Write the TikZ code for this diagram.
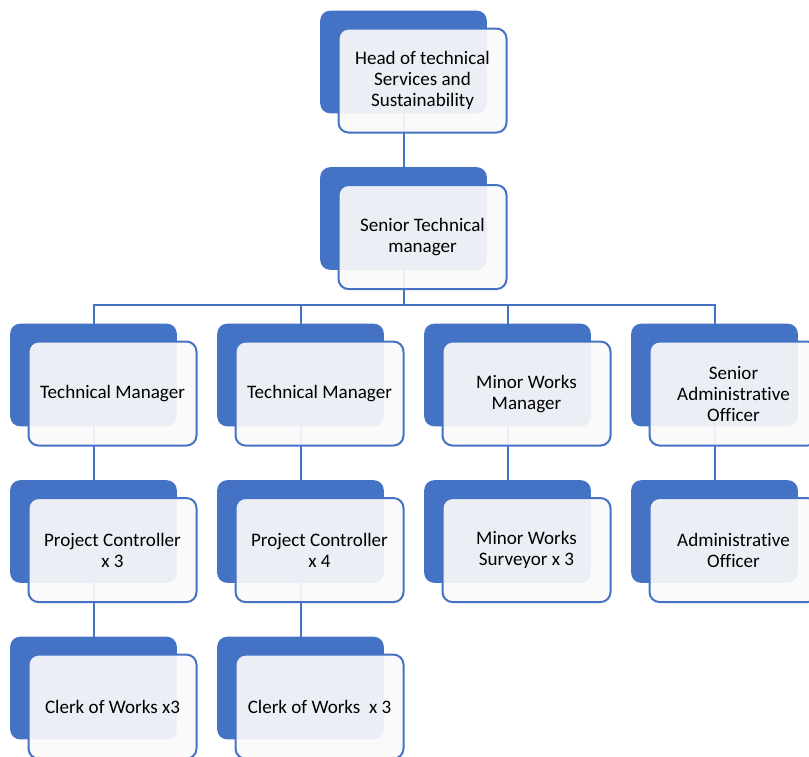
\documentclass[tikz,border=0pt]{standalone}
\usepackage{fontspec}
\setmainfont{Carlito}[Ligatures=NoCommon]
\definecolor{orgblue}{HTML}{4472C4}
\newcommand{\adm}{Administrat\kern0pt ive}

\begin{document}
\begin{tikzpicture}[x=0.75pt,y=-0.75pt,node distance=117.4pt,semithick]
  \tikzstyle{back}=[rectangle,rounded corners=7.5pt,fill=orgblue,minimum width=125pt,minimum height=77pt]
  \tikzstyle{front}=[rectangle,rounded corners=7.5pt,draw=orgblue,line width=1.5pt,fill=white!98!black,fill opacity=0.92,text opacity=1,minimum width=126pt,minimum height=78pt,xshift=14.25pt,yshift=-13.9pt,align=center,font=\fontsize{14.3pt}{15.75pt}\selectfont]
  \tikzstyle{link}=[draw=orgblue,line width=1.5pt]

  \clip (0,0) rectangle (809,756);

  % back plates
  \node[back] (head-b) at (403.5,62) {};
  \node[back] (stm-b)  [below of=head-b] {};
  \node[back] (tm1-b)  at (93.5,375) {};
  \node[back] (tm2-b)  [right of=tm1-b,node distance=155.25pt] {};
  \node[back] (mw-b)   [right of=tm2-b,node distance=155.25pt] {};
  \node[back] (sao-b)  [right of=mw-b,node distance=155.25pt] {};
  \node[back] (pc1-b)  [below of=tm1-b] {};
  \node[back] (pc2-b)  [below of=tm2-b] {};
  \node[back] (mws-b)  [below of=mw-b] {};
  \node[back] (ao-b)   [below of=sao-b] {};
  \node[back] (cw1-b)  [below of=pc1-b] {};
  \node[back] (cw2-b)  [below of=pc2-b] {};

  % lines
  \path[link] (head-b.center) edge (stm-b.center)
              (tm1-b.center)  edge (pc1-b.center)
              (pc1-b.center)  edge (cw1-b.center)
              (tm2-b.center)  edge (pc2-b.center)
              (pc2-b.center)  edge (cw2-b.center)
              (mw-b.center)   edge (mws-b.center)
              (sao-b.center)  edge (ao-b.center);
  \foreach \n in {tm1-b,tm2-b,mw-b,sao-b}
    \draw[link] (stm-b.center) -- ++(0,86.5) -| (\n.center);

  % front boxes
  \node[front] (head) at (head-b) {Head of technical\\Services and\\Sustainability};
  \node[front] (stm)  at (stm-b)  {Senior Technical\\manager};
  \node[front] (tm1)  at (tm1-b)  {Technical Manager};
  \node[front] (tm2)  at (tm2-b)  {Technical Manager};
  \node[front] (mw)   at (mw-b)   {Minor Works\\Manager};
  \node[front] (sao)  at (sao-b)  {Senior\\\adm\\Officer};
  \node[front] (pc1)  at (pc1-b)  {Project Controller\\x 3};
  \node[front] (pc2)  at (pc2-b)  {Project Controller\\x 4};
  \node[front] (mws)  at (mws-b)  {Minor Works\\Surveyor x 3};
  \node[front] (ao)   at (ao-b)   {\adm\\Officer};
  \node[front] (cw1)  at (cw1-b)  {Clerk of Works x3};
  \node[front] (cw2)  at (cw2-b)  {Clerk of Works\ \ x 3};
\end{tikzpicture}
\end{document}
